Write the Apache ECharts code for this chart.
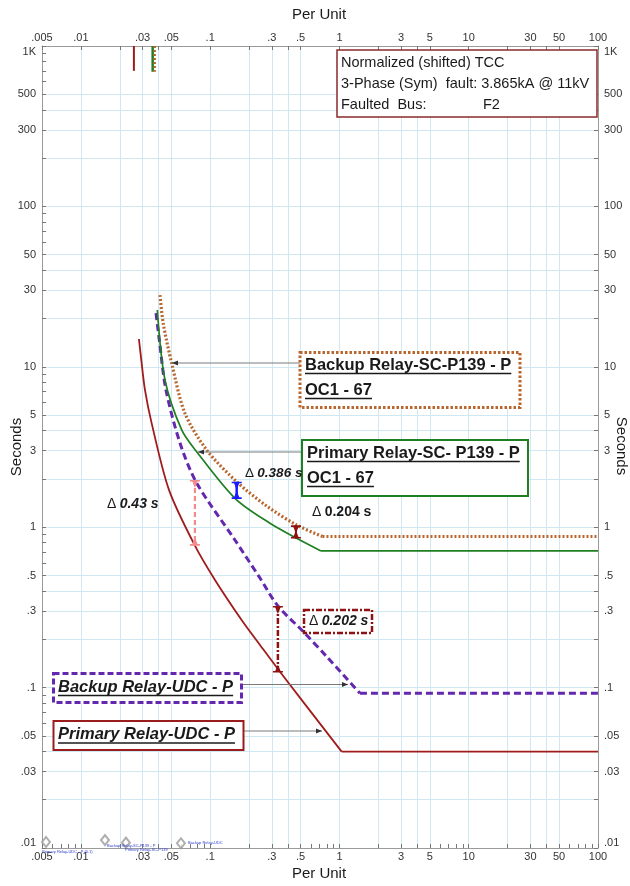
<!DOCTYPE html>
<html><head><meta charset="utf-8">
<script src="https://cdn.jsdelivr.net/npm/echarts@6/dist/echarts.min.js"></script>
<style>html,body{margin:0;padding:0;background:#fff}#c{width:630px;height:886px}</style>
</head><body><div id="c"></div>
<script>
// ---------------- data ----------------
const xTickValues = [0.005,0.01,0.03,0.05,0.1,0.3,0.5,1,3,5,10,30,50,100];
const xTickLabels = ['.005','.01','.03','.05','.1','.3','.5','1','3','5','10','30','50','100'];
const yTickValues = [0.01,0.03,0.05,0.1,0.3,0.5,1,3,5,10,30,50,100,300,500,1000];
const yTickLabels = ['.01','.03','.05','.1','.3','.5','1','3','5','10','30','50','100','300','500','1K'];
const gridMultipliers = [1,2,3,4,5];
const minorMultipliers = [6,7,8,9];

// Primary Relay-UDC - P (current in per unit, time in seconds)
const primaryUDC_I = [0.0281,0.0291,0.0313,0.0352,0.048,0.0762,0.1089,0.175,0.2427,0.3465,1.04];
const primaryUDC_T = [14.9,11.6,7.17,4.47,1.71,0.767,0.469,0.264,0.1845,0.1256,0.0399];
const primaryUDC_DT = 0.0399;
// Backup Relay-UDC - P
const backupUDC_I = [0.0381,0.0404,0.0455,0.0584,0.0786,0.1554,0.2427,0.334,0.541,0.796,1.44];
const backupUDC_T = [21.6,14.7,7.17,3.35,1.886,0.832,0.482,0.323,0.218,0.156,0.0922];
const backupUDC_DT = 0.0922;
// Primary Relay-SC-P139 - P
const primarySC_I = [0.039,0.0447,0.0602,0.0786,0.1554,0.29,0.4665,0.719];
const primarySC_T = [22.6,8.27,4.04,2.956,1.514,1.058,0.853,0.711];
const primarySC_DT = 0.711;
// Backup Relay-SC-P139 - P
const backupSC_I = [0.0409,0.0433,0.0504,0.0638,0.0939,0.1603,0.2734,0.4665,0.739];
const backupSC_T = [28.0,18.7,10.5,5.13,3.03,1.92,1.356,1.032,0.875];
const backupSC_DT = 0.875;
// instantaneous segments at top
const instRed_I = 0.0257, instGreen_I = 0.0359, instBrown_I = 0.0372;
const instTop_T = 1000, instRedBottom_T = 700, instGreenBottom_T = 690;
// coordination (delta) markers: [current, upper time, lower time]
const markPink = [0.0762, 1.97, 0.767];
const markBlue = [0.1603, 1.92, 1.50];
const markRed1 = [0.4607, 1.028, 0.85];
const markRed2 = [0.334, 0.323, 0.124];
// bottom diamonds
const diamond_I = [0.00537,0.01535,0.0223,0.0594];
const diamond_T = [0.0109,0.0112,0.0108,0.0107];

// ---------------- helpers ----------------
const L = Math.log10;
const LX0 = L(0.005), LX1 = L(100), LY0 = L(0.01), LY1 = L(1000);
const FONT = '"Liberation Sans", Arial, sans-serif';
function multVals(min, max, mults){
  const out=[];
  for(let k=-4;k<=3;k++) for(const m of mults){
    let v = L(m)+k;
    if(Math.abs(v-min)<1e-7) v=min;
    if(Math.abs(v-max)<1e-7) v=max;
    if(v>=min && v<=max) out.push(v);
  }
  return out;
}
const xGrid = multVals(LX0,LX1,gridMultipliers), xAll = xGrid.concat(multVals(LX0,LX1,minorMultipliers));
const yGrid = multVals(LY0,LY1,gridMultipliers), yAll = yGrid.concat(multVals(LY0,LY1,minorMultipliers));
function fmt(vals, labels, topTxt, botTxt){
  return function(v){
    for(let i=0;i<vals.length;i++){
      if(Math.abs(L(vals[i])-v)<1e-6){
        const t = labels[i];
        if(t===topTxt) return '{a|'+t+'}';
        if(t===botTxt) return '{b|'+t+'}';
        return t;
      }
    }
    return '';
  };
}
const labelRich = {a:{fontSize:11,fontFamily:FONT,color:'#333',padding:[12,0,0,0]}, b:{fontSize:11,fontFamily:FONT,color:'#333',padding:[0,0,10,0]}};
function xAxisCfg(pos, ticks, split){
  return {type:'value', position:pos, min:LX0, max:LX1,
    axisLine:{show:true,onZero:false,lineStyle:{color:'#9a9a9a',width:1}},
    axisTick:{show:true,inside:true,length:4,customValues:ticks,lineStyle:{color:'#777'}},
    axisLabel:{customValues:xTickValues.map(L),formatter:fmt(xTickValues,xTickLabels),margin:3,fontSize:11,fontFamily:FONT,color:'#333'},
    splitLine:{show:split,lineStyle:{color:'#cfe8f1',width:1}}};
}
function yAxisCfg(pos, ticks, split){
  return {type:'value', position:pos, min:LY0, max:LY1,
    axisLine:{show:true,onZero:false,lineStyle:{color:'#9a9a9a',width:1}},
    axisTick:{show:true,inside:true,length:4,customValues:ticks,lineStyle:{color:'#777'}},
    axisLabel:{customValues:yTickValues.map(L),formatter:fmt(yTickValues,yTickLabels,'1K','.01'),margin:6,fontSize:11,fontFamily:FONT,color:'#333',rich:labelRich},
    splitLine:{show:split,lineStyle:{color:'#cfe8f1',width:1}}};
}
function pts(I,T){return I.map((x,i)=>[L(x),L(T[i])]);}
function curve(I,T,dt,color,width,type,z){
  const d = pts(I,T);
  const ls = {color:color,width:width,type:type};
  return [
    {type:'line',data:d,smooth:0.3,showSymbol:false,lineStyle:ls,itemStyle:{color:color},z:z,silent:true,animation:false},
    {type:'line',data:[[L(I[I.length-1]),L(dt)],[LX1,L(dt)]],showSymbol:false,lineStyle:ls,z:z,silent:true,animation:false}
  ];
}
function seg(x,t1,t2,color,width,type,z){
  return {type:'line',data:[[L(x),L(t1)],[L(x),L(t2)]],showSymbol:false,lineStyle:{color:color,width:width,type:type},z:z,silent:true,animation:false};
}
const capTop = 'path://M0,0H10V1.6H7.6L5,8L2.4,1.6H0Z';
const capBot = 'path://M0,8H10V6.4H7.6L5,0L2.4,6.4H0Z';
function marker(m,color,width,type){
  return {type:'line',animation:false,silent:true,z:10,
    data:[{value:[L(m[0]),L(m[1])],symbol:capTop,symbolOffset:[0,'50%']},
          {value:[L(m[0]),L(m[2])],symbol:capBot,symbolOffset:[0,'-50%']}],
    showSymbol:true,symbolSize:[10,8],
    lineStyle:{color:color,width:width,type:type},itemStyle:{color:color}};
}

const series = [].concat(
  curve(primaryUDC_I,primaryUDC_T,primaryUDC_DT,'#a01c1c',1.8,'solid',3),
  curve(backupUDC_I,backupUDC_T,backupUDC_DT,'#6428ae',3,[7,4],4),
  curve(primarySC_I,primarySC_T,primarySC_DT,'#1f7f22',1.7,'solid',5),
  curve(backupSC_I,backupSC_T,backupSC_DT,'#b9662e',3.2,[2,2],6),
  [seg(instRed_I,instTop_T,instRedBottom_T,'#a01c1c',2,'solid',3),
   seg(instGreen_I,instTop_T,instGreenBottom_T,'#1f7f22',2.5,'solid',5),
   seg(instBrown_I,instTop_T,instGreenBottom_T,'#b9662e',2.5,[2,2],6),
   marker(markPink,'#f28b8b',2.2,[5,3]),
   marker(markBlue,'#1a1aff',2.5,'solid'),
   marker(markRed1,'#8f1111',2,'solid'),
   marker(markRed2,'#8f1111',2.5,[6,2,2,2]),
   {type:'scatter',animation:false,silent:true,data:pts(diamond_I,diamond_T),symbol:'emptyDiamond',symbolSize:[8,10],itemStyle:{color:'#9a9a9a',borderWidth:1}}]
);

// ---------------- annotation graphics ----------------
const cv = document.createElement('canvas').getContext('2d');
function tw(txt,font){cv.font=font;return cv.measureText(txt).width;}
const G = [];
function rect(x,y,w,h,stroke,lw,dash){G.push({type:'rect',z:100,shape:{x:x,y:y,width:w,height:h},style:{fill:'#fff',stroke:stroke,lineWidth:lw,lineDash:dash||null}});}
function text(t,x,y,font,fill,align){G.push({type:'text',z:101,style:{text:t,x:x,y:y,font:font,fill:fill||'#1a1a1a',align:align||'left',verticalAlign:'middle'}});}
function utext(t,x,y,font){text(t,x,y,font,'#1a1a1a');const w=tw(t,font);G.push({type:'line',z:101,shape:{x1:x,y1:y+8.5,x2:x+w,y2:y+8.5},style:{stroke:'#1a1a1a',lineWidth:1.5}});}
function arrow(x1,y,x2){
  G.push({type:'line',z:99,shape:{x1:x1,y1:y,x2:x2,y2:y},style:{stroke:'#7a7a7a',lineWidth:1}});
  const d = x2<x1?1:-1;
  G.push({type:'polygon',z:99,shape:{points:[[x2,y],[x2+d*6,y-2.5],[x2+d*6,y+2.5]]},style:{fill:'#333'}});
}
// info box
rect(337,50,260,67,'#8b2a2a',1.5);
const F14 = '14.5px '+FONT;
text('Normalized (shifted) TCC',341,63,F14);
text('3-Phase (Sym)  fault: 3.865kA @ 11kV',341,84,F14);
text('Faulted  Bus:',341,105,F14);
text('F2',483,105,F14);
// relay label boxes
const FB = 'bold 16.5px '+FONT, FBI = 'italic bold 16.5px '+FONT;
arrow(300,363,172);
rect(300,352.5,220,55,'#b9662e',3,[2.5,2]);
utext('Backup Relay-SC-P139 - P',305,365,FB);
utext('OC1 - 67',305,390,FB);
arrow(302,452,198);
rect(302,440,226,56,'#1f7f22',2);
utext('Primary Relay-SC- P139 - P',307,453,FB);
utext('OC1 - 67',307,478,FB);
arrow(241,684.5,348);
rect(53.5,673.5,188,29,'#6428ae',3,[6,3]);
utext('Backup Relay-UDC - P',58,687,FBI);
arrow(243,731,322);
rect(53.5,721,190,29,'#9b1c1c',2);
utext('Primary Relay-UDC - P',58,734.5,FBI);
// delta labels
function delta(x,y,num,italic,fs){
  G.push({type:'text',z:101,style:{x:x,y:y,verticalAlign:'middle',align:'left',
    text:'{d|\u0394} {n|'+num+'}',
    rich:{d:{font:fs+'px '+FONT,fill:'#1a1a1a'},n:{font:(italic?'italic ':'')+'bold '+fs+'px '+FONT,fill:'#1a1a1a'}}}});
}
delta(107,504,'0.43 s',true,14);
delta(245,473,'0.386 s',true,13.5);
delta(312,512,'0.204 s',false,14);
rect(304,610,68,23,'#8f1111',2.5,[6,2,2,2]);
delta(309,621.5,'0.202 s',true,14);
// axis titles
const FT = '15px '+FONT;
text('Per Unit',319,15,FT,'#1a1a1a','center');
text('Per Unit',319,874,FT,'#1a1a1a','center');
G.push({type:'text',z:101,x:17,y:447,rotation:Math.PI/2,style:{text:'Seconds',x:0,y:0,font:FT,fill:'#1a1a1a',align:'center',verticalAlign:'middle'}});
G.push({type:'text',z:101,x:621,y:446,rotation:-Math.PI/2,style:{text:'Seconds',x:0,y:0,font:FT,fill:'#1a1a1a',align:'center',verticalAlign:'middle'}});
// tiny diamond captions
const FTiny = '4px '+FONT;
text('Primary Relay-UDC - P (0.1)',42,852,FTiny,'#2a3ad0');
text('Backup Relay-SC-P139 - P',107,846,FTiny,'#2a3ad0');
text('Primary Relay-SC-P139',125,850,FTiny,'#2a3ad0');
text('Backup Relay-UDC',188,843,FTiny,'#2a3ad0');

const chart = echarts.init(document.getElementById('c'), null, {renderer:'canvas'});
chart.setOption({
  animation:false,
  backgroundColor:'#fff',
  grid:{left:42,right:32,top:46,bottom:38,containLabel:false},
  xAxis:[xAxisCfg('bottom',xAll,false), xAxisCfg('top',xGrid,true)],
  yAxis:[yAxisCfg('left',yAll,false), yAxisCfg('right',yGrid,true)],
  series:series,
  graphic:G
});
</script></body></html>
